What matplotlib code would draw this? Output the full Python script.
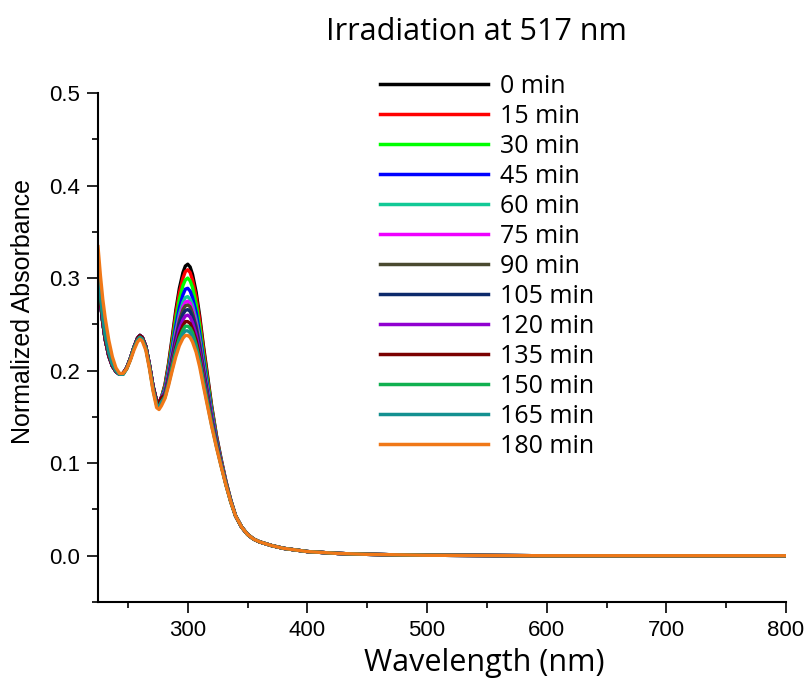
import matplotlib
matplotlib.use("Agg")
import matplotlib.pyplot as plt
from matplotlib.ticker import MultipleLocator, FormatStrFormatter

# short-wavelength side (nm): nearly identical for all spectra
left_nm = [225, 227, 229, 231, 234, 237, 240, 243, 246, 249, 252, 255, 258, 260,
           262, 265, 268, 271, 274, 276, 278]
left_early = [0.305, 0.275, 0.252, 0.234, 0.216, 0.205, 0.199, 0.196, 0.197, 0.203, 0.213,
              0.225, 0.235, 0.238, 0.236, 0.226, 0.206, 0.183, 0.167, 0.165, 0.171]
left_late = [0.312, 0.282, 0.258, 0.239, 0.220, 0.207, 0.200, 0.196, 0.196, 0.202, 0.212,
             0.224, 0.233, 0.236, 0.234, 0.224, 0.204, 0.180, 0.163, 0.161, 0.166]
left_last = [0.334, 0.303, 0.277, 0.257, 0.233, 0.215, 0.203, 0.197, 0.197, 0.202, 0.211,
             0.222, 0.231, 0.234, 0.232, 0.222, 0.202, 0.178, 0.160, 0.158, 0.162]

# band around 300 nm, where the spectra separate with irradiation time
peak_nm = [281, 284, 287, 290, 293, 296, 298, 300, 302, 304, 307, 310, 313, 316,
           320, 324, 328, 332, 336]
peak_abs = {
    '0 min':   [0.185, 0.208, 0.236, 0.265, 0.289, 0.306, 0.313, 0.315, 0.312, 0.304, 0.285,
                0.259, 0.228, 0.200, 0.162, 0.130, 0.104, 0.080, 0.060],
    '15 min':  [0.184, 0.206, 0.233, 0.261, 0.284, 0.300, 0.307, 0.309, 0.306, 0.298, 0.280,
                0.255, 0.225, 0.197, 0.160, 0.129, 0.103, 0.080, 0.060],
    '30 min':  [0.182, 0.203, 0.229, 0.255, 0.277, 0.292, 0.298, 0.300, 0.297, 0.290, 0.272,
                0.248, 0.219, 0.193, 0.158, 0.127, 0.102, 0.079, 0.060],
    '45 min':  [0.180, 0.200, 0.224, 0.248, 0.268, 0.282, 0.288, 0.289, 0.286, 0.279, 0.263,
                0.240, 0.213, 0.188, 0.155, 0.126, 0.101, 0.079, 0.059],
    '60 min':  [0.178, 0.197, 0.220, 0.242, 0.261, 0.274, 0.279, 0.280, 0.277, 0.271, 0.255,
                0.234, 0.208, 0.184, 0.152, 0.124, 0.100, 0.078, 0.059],
    '75 min':  [0.177, 0.196, 0.217, 0.239, 0.257, 0.269, 0.274, 0.275, 0.273, 0.266, 0.251,
                0.230, 0.205, 0.182, 0.151, 0.123, 0.100, 0.078, 0.059],
    '90 min':  [0.176, 0.194, 0.215, 0.236, 0.254, 0.266, 0.270, 0.271, 0.269, 0.262, 0.248,
                0.228, 0.203, 0.180, 0.149, 0.123, 0.099, 0.078, 0.059],
    '105 min': [0.175, 0.193, 0.213, 0.233, 0.250, 0.261, 0.265, 0.266, 0.264, 0.258, 0.244,
                0.224, 0.200, 0.178, 0.148, 0.122, 0.099, 0.077, 0.059],
    '120 min': [0.174, 0.191, 0.210, 0.229, 0.245, 0.255, 0.259, 0.260, 0.258, 0.252, 0.239,
                0.220, 0.197, 0.175, 0.146, 0.121, 0.098, 0.077, 0.059],
    '135 min': [0.173, 0.189, 0.207, 0.225, 0.239, 0.249, 0.253, 0.253, 0.251, 0.245, 0.233,
                0.215, 0.193, 0.172, 0.144, 0.120, 0.098, 0.077, 0.058],
    '150 min': [0.172, 0.187, 0.205, 0.222, 0.235, 0.244, 0.248, 0.248, 0.246, 0.241, 0.228,
                0.211, 0.190, 0.170, 0.143, 0.119, 0.097, 0.077, 0.058],
    '165 min': [0.171, 0.186, 0.202, 0.218, 0.231, 0.240, 0.243, 0.243, 0.241, 0.236, 0.224,
                0.208, 0.187, 0.167, 0.141, 0.118, 0.097, 0.076, 0.058],
    '180 min': [0.170, 0.184, 0.200, 0.215, 0.227, 0.235, 0.238, 0.238, 0.236, 0.231, 0.220,
                0.204, 0.184, 0.165, 0.140, 0.117, 0.096, 0.076, 0.058],
}

# long-wavelength tail, all spectra overlap
tail_nm = [340, 345, 350, 355, 360, 370, 380, 400, 425, 450, 500, 600, 700, 800]
tail_abs = [0.043, 0.031, 0.023, 0.018, 0.015, 0.011, 0.008, 0.0045, 0.0025, 0.0015,
            0.0005, 0.0, 0.0, 0.0]

labels = list(peak_abs.keys())
left_parts = [left_early] * 10 + [left_late, left_late, left_last]
colors = ['#000000', '#ff0000', '#00ff00', '#0000ff', '#12c996', '#ee00ff', '#4a4a30',
          '#0d2a6b', '#9000d0', '#7a0000', '#10b050', '#139090', '#f07818']

fig = plt.figure(figsize=(8.08, 6.84), dpi=100)
ax = fig.add_axes([98 / 808, 1 - 602 / 684, 688 / 808, 509 / 684])

wl = left_nm + peak_nm + tail_nm
for label, left, color in zip(labels, left_parts, colors):
    ax.plot(wl, left + peak_abs[label] + tail_abs, color=color, lw=2.4,
            solid_joinstyle='round', label=label)

ax.set_xlim(225, 800)
ax.set_ylim(-0.05, 0.5)
ax.xaxis.set_major_locator(MultipleLocator(100))
ax.xaxis.set_minor_locator(MultipleLocator(50))
ax.yaxis.set_major_locator(MultipleLocator(0.1))
ax.yaxis.set_minor_locator(MultipleLocator(0.05))
ax.yaxis.set_major_formatter(FormatStrFormatter('%.1f'))

for side in ['top', 'right']:
    ax.spines[side].set_visible(False)
for side in ['left', 'bottom']:
    ax.spines[side].set_linewidth(1.5)

ax.tick_params(which='major', direction='out', length=8, width=1.2, pad=5)
ax.tick_params(which='minor', direction='out', length=4, width=1.2)
for lab in ax.get_xticklabels() + ax.get_yticklabels():
    lab.set_family(['Liberation Sans Narrow', 'Liberation Sans'])
    lab.set_fontsize(16)

fig.text(23 / 808, 1 - 312 / 684, 'Normalized Absorbance', family='Liberation Sans',
         fontsize=18, rotation=90, ha='center', va='center')
fig.text(484 / 808, 1 - 663 / 684, 'Wavelength (nm)', family='Open Sans', fontsize=22,
         ha='center', va='center')
fig.text(476 / 808, 1 - 32 / 684, 'Irradiation at 517 nm', family='Open Sans', fontsize=22,
         ha='center', va='center')

leg = ax.legend(loc='upper left', bbox_to_anchor=(380 / 808, 1 - 74 / 684),
                bbox_transform=fig.transFigure, frameon=False, borderpad=0,
                borderaxespad=0, handlelength=4.3, handletextpad=0.48,
                labelspacing=0.2, prop={'family': 'Open Sans', 'size': 18})
for line in leg.get_lines():
    line.set_linewidth(2.5)

fig.savefig('out.png', dpi=100)
